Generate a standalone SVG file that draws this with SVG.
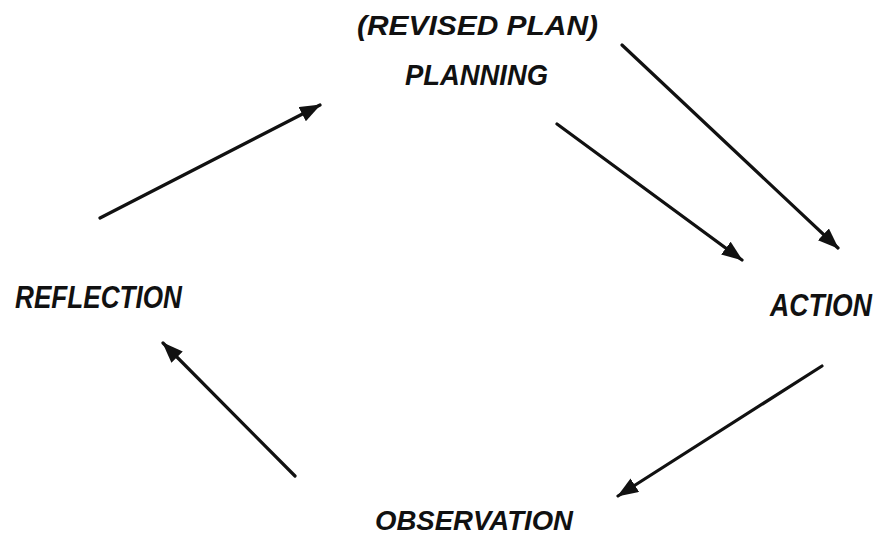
<svg xmlns="http://www.w3.org/2000/svg" width="883" height="538" viewBox="0 0 883 538">
<style>
.lbl{font-family:"Liberation Sans","DejaVu Sans",sans-serif;font-weight:bold;font-style:italic;font-size:29px;fill:#111}
.conn line{stroke:#111;stroke-width:3.2;stroke-linecap:round;marker-end:url(#ah)}
</style>
<defs>
<marker id="ah" markerUnits="userSpaceOnUse" markerWidth="24" markerHeight="18" refX="20" refY="8" orient="auto">
<path d="M0,0 L21,8 L0,16 Z" fill="#111"/>
</marker>
</defs>
<rect width="883" height="538" fill="#fff"/>
<g id="planning">
<text class="lbl" x="357" y="35" style="font-size:28px" textLength="241" lengthAdjust="spacingAndGlyphs">(REVISED PLAN)</text>
<text class="lbl" x="405" y="85" style="font-size:30px" textLength="143" lengthAdjust="spacingAndGlyphs">PLANNING</text>
</g>
<g id="action"><text class="lbl" transform="translate(770,316) scale(0.95,1.15)" x="0" y="0" style="font-size:28px">ACTION</text></g>
<g id="observation"><text class="lbl" x="375" y="530" style="font-size:28px" textLength="198" lengthAdjust="spacingAndGlyphs">OBSERVATION</text></g>
<g id="reflection"><text class="lbl" x="15" y="308" style="font-size:31px" textLength="167" lengthAdjust="spacingAndGlyphs">REFLECTION</text></g>
<g id="connectors" class="conn">
<line x1="100" y1="218" x2="320" y2="105"/>
<line x1="557" y1="124" x2="742" y2="260"/>
<line x1="622" y1="45" x2="838" y2="248"/>
<line x1="822" y1="366" x2="618" y2="496"/>
<line x1="295" y1="476" x2="163" y2="343"/>
</g>
</svg>
